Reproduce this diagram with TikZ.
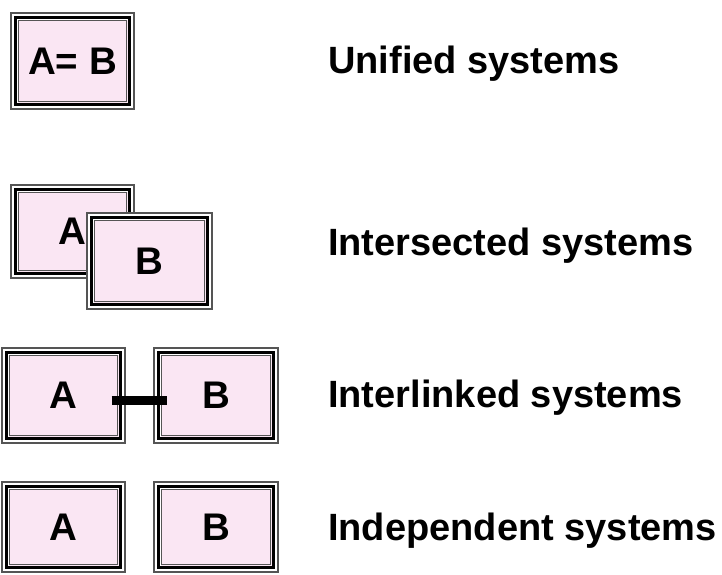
\documentclass[tikz,border=0pt]{standalone}
\usepackage{fontspec}
\setmainfont{Liberation Sans}

\definecolor{boxpink}{RGB}{250,230,243}
\definecolor{framegray}{RGB}{85,85,85}

\tikzset{
  sysbox/.style={draw=framegray, line width=1.2pt, fill=white, inner sep=0pt,
    minimum width=123pt, font=\fontsize{38.5}{40}\selectfont\bfseries,
    path picture={
      \fill[boxpink] ([shift={(6.5pt,-6.5pt)}]path picture bounding box.north west)
        rectangle ([shift={(-6.5pt,6.5pt)}]path picture bounding box.south east);
      \draw[black, line width=3.2pt] ([shift={(4.2pt,-4.2pt)}]path picture bounding box.north west)
        rectangle ([shift={(-4.2pt,4.2pt)}]path picture bounding box.south east);
      \draw[framegray, line width=1pt] ([shift={(7.2pt,-7.2pt)}]path picture bounding box.north west)
        rectangle ([shift={(-7.2pt,7.2pt)}]path picture bounding box.south east);
    }},
  syslabel/.style={anchor=base west, inner sep=0pt, font=\fontsize{38}{40}\selectfont\bfseries},
  linkbar/.style={line width=9pt, black, shorten <=-14pt, shorten >=-14pt}
}

\begin{document}
\begin{tikzpicture}[x=1pt, y=-1pt]

  % Fix the page to the picture size
  \useasboundingbox (0,0) rectangle (722,574);

  % Left edge of the labels
  \def\lx{328}

  % Unified systems
  \node[sysbox, minimum height=96pt] (uab) at (72.5,61) {A= B};
  \node[syslabel] (unilabel) at (\lx,73) {Unified systems};

  % Intersected systems, B lies over A
  \node[sysbox, minimum height=93pt] (ia) at (72.5,231.5) {A};
  \node[sysbox, minimum height=96pt, minimum width=125pt] (ib) at (149.5,261) {B};
  \node[syslabel] (intlabel) at (\lx,255) {Intersected systems};

  % Interlinked systems
  \node[sysbox, minimum height=95pt] (la) at (63.5,395.5) {A};
  \node[sysbox, minimum height=95pt, minimum width=124pt] (lb) at (216,395.5) {B};
  \draw[linkbar] ([yshift=-4.5pt]la.east) -- ([yshift=-4.5pt]lb.west);
  \node[syslabel] (linklabel) at (\lx,407) {Interlinked systems};

  % Independent systems
  \node[sysbox, minimum height=90pt] (da) at (63.5,527) {A};
  \node[sysbox, minimum height=90pt, minimum width=124pt] (db) at (216,527) {B};
  \node[syslabel] (indlabel) at (\lx,540) {Independent systems};

\end{tikzpicture}
\end{document}
